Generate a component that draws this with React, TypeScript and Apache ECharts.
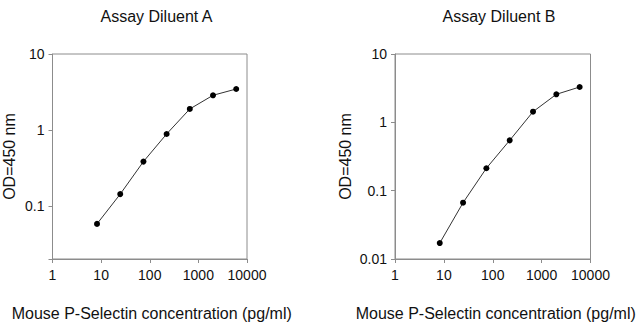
import React, { useEffect, useRef } from "react";
import * as echarts from "echarts";

const concentrations = [8.23, 24.7, 74.1, 222.2, 666.7, 2000, 6000];
const odDiluentA = [0.058, 0.143, 0.383, 0.885, 1.89, 2.86, 3.46];
const odDiluentB = [0.0171, 0.0667, 0.213, 0.545, 1.43, 2.57, 3.29];
const panelTitles = ["Assay Diluent A", "Assay Diluent B"];
const xAxisName = "Mouse P-Selectin concentration (pg/ml)";
const yAxisName = "OD=450 nm";

const FONT = '"Liberation Sans", Arial, Helvetica, sans-serif';
const AXIS_GRAY = "#8c8c8c";

const decadeLabel = (v: number) => {
  const l = Math.log10(v);
  if (Math.abs(l - Math.round(l)) > 1e-6) return "";
  return String(Math.pow(10, Math.round(l)));
};

export default function App() {
  const ref = useRef<HTMLDivElement>(null);
  useEffect(() => {
    if (!ref.current) return;
    const chart = echarts.init(ref.current, undefined, { renderer: "svg" });
    const grids = [
      { left: 52, top: 54, width: 195, height: 205 },
      { left: 395, top: 54, width: 195.5, height: 205 },
    ];
    const yMins = [0.02, 0.01];
    const titleCenters = [151.5, 494];
    const yNameGaps = [35.5, 42];
    const xNamePad = [[0, 0, 0, 4], [0, 0, 0, 6]];
    const seriesData = [odDiluentA, odDiluentB];

    chart.setOption({
      animation: false,
      backgroundColor: "#ffffff",
      textStyle: { fontFamily: FONT },
      title: panelTitles.map((t, i) => ({
        text: t,
        left: titleCenters[i],
        top: 3,
        textAlign: "center",
        textStyle: { fontFamily: FONT, fontSize: 16, fontWeight: "normal", color: "#111" },
      })),
      grid: grids.map((g) => ({
        ...g,
        show: true,
        borderColor: AXIS_GRAY,
        borderWidth: 1,
        backgroundColor: "transparent",
      })),
      xAxis: grids.map((_, i) => ({
        type: "log",
        gridIndex: i,
        min: 1,
        max: 10000,
        logBase: 10,
        name: xAxisName,
        nameLocation: "middle",
        nameGap: 46,
        nameTextStyle: { fontFamily: FONT, fontSize: 16, color: "#111", padding: xNamePad[i] },
        axisLine: { show: true, lineStyle: { color: AXIS_GRAY, width: 1 } },
        axisTick: { show: true, length: 4, lineStyle: { color: AXIS_GRAY } },
        axisLabel: { fontFamily: FONT, fontSize: 14, color: "#111", margin: 9, formatter: decadeLabel },
        splitLine: { show: false },
        minorTick: { show: false },
      })),
      yAxis: grids.map((_, i) => ({
        type: "log",
        gridIndex: i,
        min: yMins[i],
        max: 10,
        logBase: 10,
        name: yAxisName,
        nameLocation: "middle",
        nameGap: yNameGaps[i],
        nameRotate: 90,
        nameTextStyle: { fontFamily: FONT, fontSize: 16, color: "#111" },
        axisLine: { show: true, lineStyle: { color: AXIS_GRAY, width: 1 } },
        axisTick: { show: true, length: 4, lineStyle: { color: AXIS_GRAY } },
        axisLabel: { fontFamily: FONT, fontSize: 14, color: "#111", margin: 8, formatter: decadeLabel },
        splitLine: { show: false },
      })),
      series: seriesData.map((vals, i) => ({
        type: "line",
        xAxisIndex: i,
        yAxisIndex: i,
        data: concentrations.map((c, j) => [c, vals[j]]),
        symbol: "circle",
        symbolSize: 6,
        lineStyle: { color: "#333", width: 1 },
        itemStyle: { color: "#000" },
        silent: true,
      })),
    });
    return () => chart.dispose();
  }, []);
  return (
    <div
      ref={ref}
      style={{ position: "fixed", left: 0, top: 0, width: 640, height: 326 }}
    />
  );
}
